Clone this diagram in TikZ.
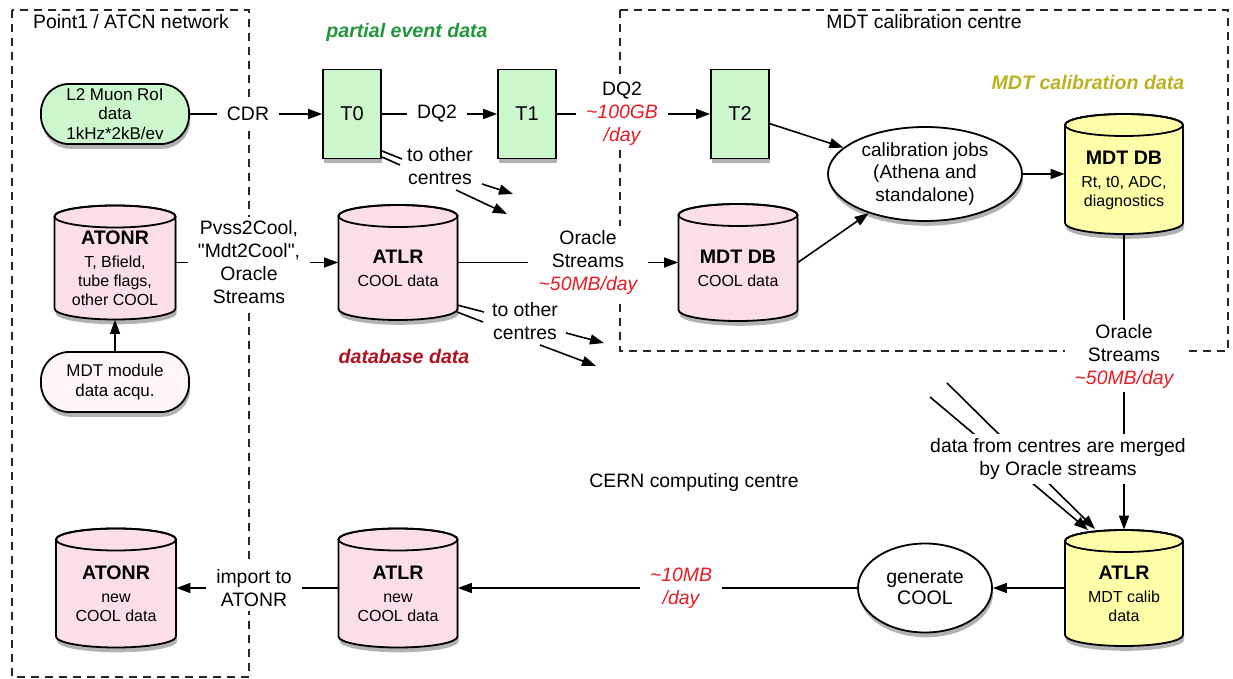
\documentclass[tikz,border=0pt]{standalone}
\usepackage{fontspec}
\setmainfont{Liberation Sans}
\newfontfamily\plainsans{Liberation Sans}
\usetikzlibrary{arrows.meta,shapes.geometric,shadows}

\definecolor{nodegreen}{RGB}{204,247,204}
\definecolor{dbpink}{RGB}{252,222,232}
\definecolor{dbyellow}{RGB}{255,255,170}
\definecolor{modfill}{RGB}{255,247,247}
\definecolor{ratered}{RGB}{232,28,36}
\definecolor{evgreen}{RGB}{34,150,60}
\definecolor{dbred}{RGB}{176,16,32}
\definecolor{calolive}{RGB}{187,177,33}

\newcommand{\flowrate}[1]{\textcolor{ratered}{\itshape #1}}
\newcommand{\dbtitle}[1]{{\fontsize{9.8}{11.5}\selectfont\bfseries #1}}
\newcommand{\straightquote}{{\plainsans"}}

\tikzset{
  every node/.style={inner sep=0pt},
  castshadow/.style={drop shadow={shadow xshift=0.6pt, shadow yshift=-2.4pt, opacity=0.3, fill=black}},
  outline/.style={draw=black, line width=0.9pt},
  tbox/.style={rectangle, outline, castshadow, fill=nodegreen, minimum width=29pt, minimum height=44.5pt, font=\fontsize{10}{12}\selectfont},
  pill/.style={rectangle, outline, castshadow, rounded corners=14pt, minimum width=74pt, minimum height=30pt, align=center, font=\fontsize{8.5}{9.9}\selectfont},
  oval/.style={ellipse, outline, castshadow, fill=white, align=center},
  dbshape/.style={outline, castshadow},
  dbline/.style={draw=black, line width=0.9pt},
  dbbox/.style={rectangle, inner sep=0pt},
  dbtext/.style={align=center, font=\fontsize{8}{9.5}\selectfont},
  lbl/.style={fill=white, align=center, inner xsep=5pt, inner ysep=2pt, font=\fontsize{9.7}{11.5}\selectfont},
  lblclear/.style={align=center, font=\fontsize{9.7}{11.5}\selectfont},
  conn/.style={draw=black, line width=0.8pt},
  arr/.style={conn, -{Triangle[length=7pt,width=5pt]}},
  region/.style={draw=black!85, line width=0.7pt, dash pattern=on 4pt off 3pt},
  title/.style={font=\fontsize{9.7}{11.5}\selectfont},
  tag/.style={font=\fontsize{9.8}{11.5}\selectfont\bfseries\itshape}
}

% database cylinder: name, centre x, centre y, width, height, fill, text
\newcommand{\database}[7]{%
  \path[dbshape, fill=#6]
    ({#2-#4/2},{#3-#5/2+11}) -- ({#2-#4/2},{#3+#5/2-11})
    arc[start angle=180, end angle=360, x radius={#4/4*1pt}, y radius=5.5pt]
    -- ({#2+#4/2},{#3-#5/2+11})
    arc[start angle=0, end angle=180, x radius={#4/4*1pt}, y radius=5.5pt]
    -- cycle;
  \draw[dbline] (#2,{#3-#5/2+11}) ellipse[x radius={#4/4*1pt}, y radius=5.5pt];
  \node[dbbox, minimum width={#4/2*1pt}, minimum height={#5/2*1pt}] (#1) at (#2,#3) {};
  \node[dbtext] (#1-txt) at (#2,{#3+6}) {#7};
}

\begin{document}
\begin{tikzpicture}[x=0.5pt, y=-0.5pt]
  \path[fill=white, use as bounding box] (0,0) rectangle (1233,679);

  % network regions
  \draw[region] (12,10) rectangle (249,677);
  \draw[region] (620,10) rectangle (1228,351);

  % region names and data tags
  \node[title] (netname) at (131,22) {Point1 / ATCN network};
  \node[title] (calname) at (924,22) {MDT calibration centre};
  \node[title] (cernname) at (694,482) {CERN computing centre};
  \node[tag, text=evgreen] (tagev) at (407,32) {partial event data};
  \node[tag, text=dbred] (tagdb) at (404,357) {database data};
  \node[tag, text=calolive] (tagcal) at (1088,83) {MDT calibration data};

  % event data chain
  \node[pill, fill=nodegreen] (l2) at (115,114) {L2 Muon RoI\\data\\1kHz*2kB/ev};
  \node[tbox] (t0) at (352,114) {T0};
  \node[tbox] (t1) at (527,114) {T1};
  \node[tbox] (t2) at (740,114) {T2};

  \node[pill, fill=modfill] (mod) at (115,382) {MDT module\\data acqu.};
  \node[oval, minimum width=97pt, minimum height=47pt, font=\fontsize{9.5}{11.3}\selectfont] (calib) at (925,174) {calibration jobs\\(Athena and\\standalone)};
  \node[oval, minimum width=67pt, minimum height=44.5pt, font=\fontsize{9.8}{10.6}\selectfont] (gen) at (925,588) {generate\\COOL};

  % databases
  \database{atonr}{115}{262.5}{121}{114}{dbpink}{\dbtitle{ATONR}\\[2pt]T, Bfield,\\tube flags,\\other COOL}
  \database{atlr}{398}{262.5}{119}{115}{dbpink}{\dbtitle{ATLR}\\[2pt]COOL data}
  \database{mdtdb}{738}{262.5}{119}{117}{dbpink}{\dbtitle{MDT DB}\\[2pt]COOL data}
  \database{mdtcal}{1124}{174}{118}{120}{dbyellow}{\dbtitle{MDT DB}\\[2pt]Rt, t0, ADC,\\diagnostics}
  \database{atlrcal}{1124}{588}{118}{116}{dbyellow}{\dbtitle{ATLR}\\[2pt]MDT calib\\data}
  \database{atonrnew}{116}{588}{120}{119}{dbpink}{\dbtitle{ATONR}\\[2pt]new\\COOL data}
  \database{atlrnew}{398}{588}{119}{119}{dbpink}{\dbtitle{ATLR}\\[2pt]new\\COOL data}

  % connector labels
  \node[lbl] (cdr) at (248,114) {CDR};
  \node[lbl] (dq2a) at (437,114) {DQ2};
  \node[lbl] (dq2b) at (622,114) {DQ2\\\flowrate{\textasciitilde100GB}\\\flowrate{/day}};
  \node[lbl] (pvss) at (249,262.5) {Pvss2Cool,\\\straightquote Mdt2Cool\straightquote,\\Oracle\\Streams};
  \node[lbl] (os1) at (588,262.5) {Oracle\\Streams\\\flowrate{\textasciitilde50MB/day}};
  \node[lbl] (os2) at (1124,356) {Oracle\\Streams\\\flowrate{\textasciitilde50MB/day}};
  \node[lbl] (tenmb) at (681,588) {\flowrate{\textasciitilde10MB}\\\flowrate{/day}};
  \node[lbl] (imp) at (254,588) {import to\\ATONR};
  \node[lblclear] (oc1) at (440,166) {to other\\centres};
  \node[lblclear] (oc2) at (525,321) {to other\\centres};

  % main flow
  \draw[conn] (l2) -- (cdr);
  \draw[arr] (cdr) -- (t0);
  \draw[conn] (t0) -- (dq2a);
  \draw[arr] (dq2a) -- (t1);
  \draw[conn] (t1) -- (dq2b);
  \draw[arr] (dq2b) -- (t2);
  \draw[arr] (t2) -- (calib);
  \draw[arr] (mdtdb.east) -- (calib);
  \draw[arr] (calib) -- (mdtcal);

  \draw[arr] (mod) -- (atonr);
  \draw[conn] (atonr) -- (pvss);
  \draw[arr] (pvss) -- (atlr);
  \draw[conn] (atlr) -- (os1);
  \draw[arr] (os1) -- (mdtdb);

  \draw[conn] (mdtcal) -- (os2);
  \draw[arr] (os2) -- (atlrcal);
  \draw[arr] (atlrcal) -- (gen);
  \draw[conn] (gen) -- (tenmb);
  \draw[arr] (tenmb) -- (atlrnew);
  \draw[conn] (atlrnew) -- (imp);
  \draw[arr] (imp) -- (atonrnew);

  % copies towards other centres
  \coordinate (t0a1) at (382,151);  \coordinate (t0a2) at (402,159);
  \coordinate (t0b1) at (382,157);  \coordinate (t0b2) at (400,165);
  \coordinate (t0c1) at (482,184);  \coordinate (t0c2) at (513,194);
  \coordinate (t0d1) at (456,190);  \coordinate (t0d2) at (507,214);
  \draw[conn] (t0a1) -- (t0a2);
  \draw[conn] (t0b1) -- (t0b2);
  \draw[arr] (t0c1) -- (t0c2);
  \draw[arr] (t0d1) -- (t0d2);

  \coordinate (ata1) at (457,305);  \coordinate (ata2) at (484,312);
  \coordinate (atb1) at (457,312);  \coordinate (atb2) at (483,322);
  \coordinate (atc1) at (566,333);  \coordinate (atc2) at (604,343);
  \coordinate (atd1) at (540,345);  \coordinate (atd2) at (596,366);
  \draw[conn] (ata1) -- (ata2);
  \draw[conn] (atb1) -- (atb2);
  \draw[arr] (atc1) -- (atc2);
  \draw[arr] (atd1) -- (atd2);

  % streams arriving from the other centres
  \coordinate (fromA) at (930,397);  \coordinate (intoA) at (1088,530);
  \coordinate (fromB) at (947,383);  \coordinate (intoB) at (1095,529);
  \draw[arr] (fromA) -- (intoA);
  \draw[arr] (fromB) -- (intoB);

  \node[lbl] (merged) at (1058,459) {data from centres are merged\\by Oracle streams};
\end{tikzpicture}
\end{document}
